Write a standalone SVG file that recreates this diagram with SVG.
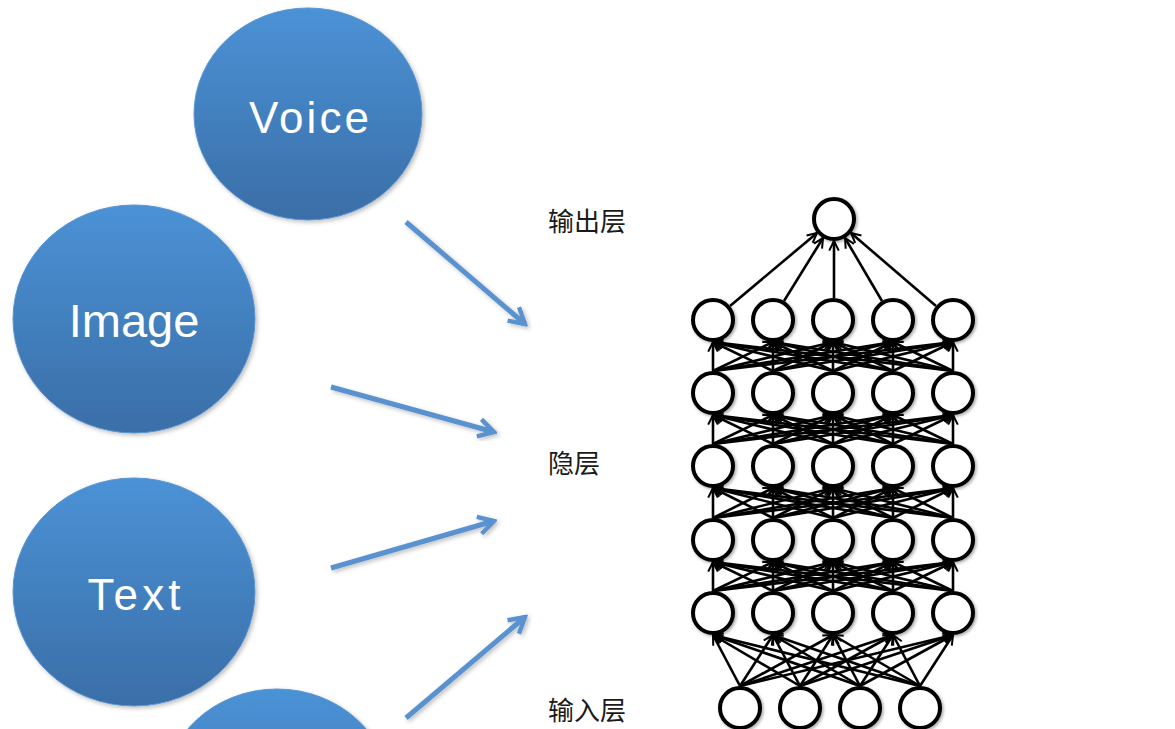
<svg xmlns="http://www.w3.org/2000/svg" width="1175" height="729" viewBox="0 0 1175 729">
  <style>
    .bubble { fill: url(#bubbleFill); stroke: #5b95d0; stroke-width: 1; filter: url(#softShadow); }
    .blabel { fill: #ffffff; }
    .spaced { font-family: "Liberation Sans", Arial, sans-serif; font-size: 44px; }
    .sans { font-family: "Liberation Sans", Arial, sans-serif; font-size: 47px; }
    .flow { stroke: #5a92cf; stroke-width: 5; fill: none; marker-end: url(#blueHead); filter: url(#softShadow); }
    .neuron { fill: #ffffff; stroke: #000000; stroke-width: 4; filter: url(#nodeShadow); }
    .e { stroke: #000000; stroke-width: 2.6; marker-end: url(#blackHead); }
    .cap { font-family: "Noto Sans CJK SC", "Noto Sans", sans-serif; font-size: 26px; fill: #1a1a1a; }
  </style>
  <defs>
    <linearGradient id="bubbleFill" x1="0" y1="0" x2="0" y2="1">
      <stop offset="0" stop-color="#4b92d6"/>
      <stop offset="1" stop-color="#3a6ea7"/>
    </linearGradient>
    <filter id="softShadow" x="-20%" y="-20%" width="140%" height="140%">
      <feDropShadow dx="2" dy="2" stdDeviation="2" flood-color="#000" flood-opacity="0.25"/>
    </filter>
    <filter id="nodeShadow" x="-30%" y="-30%" width="160%" height="160%">
      <feDropShadow dx="1.5" dy="1.5" stdDeviation="1.5" flood-color="#000" flood-opacity="0.35"/>
    </filter>
    <marker id="blueHead" viewBox="0 0 20 20" refX="17" refY="10" markerWidth="22" markerHeight="22" markerUnits="userSpaceOnUse" orient="auto">
      <path d="M3,2 L17,10 L3,18" fill="none" stroke="#5a92cf" stroke-width="4"/>
    </marker>
    <marker id="blackHead" viewBox="0 0 10 10" refX="9" refY="5" markerWidth="12" markerHeight="12" markerUnits="userSpaceOnUse" orient="auto">
      <path d="M1,1 L9,5 L1,9" fill="none" stroke="#000" stroke-width="1.7"/>
    </marker>
  </defs>

  <rect width="1175" height="729" fill="#ffffff"/>

  <!-- input media bubbles -->
  <g id="voice">
    <ellipse class="bubble" cx="308" cy="114" rx="114" ry="106"/>
    <text class="blabel spaced" x="309" y="133" text-anchor="middle" textLength="120" lengthAdjust="spacing">Voice</text>
  </g>
  <g id="image">
    <ellipse class="bubble" cx="134" cy="319" rx="121" ry="114"/>
    <text class="blabel sans" x="134" y="337" text-anchor="middle">Image</text>
  </g>
  <g id="text">
    <ellipse class="bubble" cx="134" cy="592" rx="121" ry="114"/>
    <text class="blabel spaced" x="134" y="610" text-anchor="middle" textLength="93" lengthAdjust="spacing">Text</text>
  </g>
  <g id="video">
    <ellipse class="bubble" cx="277" cy="795" rx="114" ry="106"/>
  </g>

  <!-- layer captions -->
  <g id="captions">
    <text class="cap" x="548" y="231">输出层</text>
    <text class="cap" x="548" y="473">隐层</text>
    <text class="cap" x="548" y="720">输入层</text>
  </g>

  <!-- blue flow arrows -->
  <g id="flows">
    <line class="flow" x1="406" y1="222" x2="525" y2="324"/>
    <line class="flow" x1="331" y1="387" x2="494" y2="432"/>
    <line class="flow" x1="331" y1="568" x2="494" y2="521"/>
    <line class="flow" x1="406" y1="718" x2="525" y2="617"/>
    <line class="flow" x1="1028" y1="478" x2="1172" y2="478"/>
  </g>

  <!-- network edges -->
  <g id="connectors">
    <!-- input -> hidden 1 -->
    <line class="e" x1="740" y1="686" x2="713" y2="635"/>
    <line class="e" x1="740" y1="686" x2="773" y2="635"/>
    <line class="e" x1="740" y1="686" x2="833" y2="635"/>
    <line class="e" x1="740" y1="686" x2="893" y2="635"/>
    <line class="e" x1="740" y1="686" x2="953" y2="635"/>
    <line class="e" x1="800" y1="686" x2="713" y2="635"/>
    <line class="e" x1="800" y1="686" x2="773" y2="635"/>
    <line class="e" x1="800" y1="686" x2="833" y2="635"/>
    <line class="e" x1="800" y1="686" x2="893" y2="635"/>
    <line class="e" x1="800" y1="686" x2="953" y2="635"/>
    <line class="e" x1="860" y1="686" x2="713" y2="635"/>
    <line class="e" x1="860" y1="686" x2="773" y2="635"/>
    <line class="e" x1="860" y1="686" x2="833" y2="635"/>
    <line class="e" x1="860" y1="686" x2="893" y2="635"/>
    <line class="e" x1="860" y1="686" x2="953" y2="635"/>
    <line class="e" x1="920" y1="686" x2="713" y2="635"/>
    <line class="e" x1="920" y1="686" x2="773" y2="635"/>
    <line class="e" x1="920" y1="686" x2="833" y2="635"/>
    <line class="e" x1="920" y1="686" x2="893" y2="635"/>
    <line class="e" x1="920" y1="686" x2="953" y2="635"/>
    <!-- hidden 1 -> hidden 2 -->
    <line class="e" x1="713" y1="591" x2="713" y2="562"/>
    <line class="e" x1="713" y1="591" x2="773" y2="562"/>
    <line class="e" x1="713" y1="591" x2="833" y2="562"/>
    <line class="e" x1="713" y1="591" x2="893" y2="562"/>
    <line class="e" x1="713" y1="591" x2="953" y2="562"/>
    <line class="e" x1="773" y1="591" x2="713" y2="562"/>
    <line class="e" x1="773" y1="591" x2="773" y2="562"/>
    <line class="e" x1="773" y1="591" x2="833" y2="562"/>
    <line class="e" x1="773" y1="591" x2="893" y2="562"/>
    <line class="e" x1="773" y1="591" x2="953" y2="562"/>
    <line class="e" x1="833" y1="591" x2="713" y2="562"/>
    <line class="e" x1="833" y1="591" x2="773" y2="562"/>
    <line class="e" x1="833" y1="591" x2="833" y2="562"/>
    <line class="e" x1="833" y1="591" x2="893" y2="562"/>
    <line class="e" x1="833" y1="591" x2="953" y2="562"/>
    <line class="e" x1="893" y1="591" x2="713" y2="562"/>
    <line class="e" x1="893" y1="591" x2="773" y2="562"/>
    <line class="e" x1="893" y1="591" x2="833" y2="562"/>
    <line class="e" x1="893" y1="591" x2="893" y2="562"/>
    <line class="e" x1="893" y1="591" x2="953" y2="562"/>
    <line class="e" x1="953" y1="591" x2="713" y2="562"/>
    <line class="e" x1="953" y1="591" x2="773" y2="562"/>
    <line class="e" x1="953" y1="591" x2="833" y2="562"/>
    <line class="e" x1="953" y1="591" x2="893" y2="562"/>
    <line class="e" x1="953" y1="591" x2="953" y2="562"/>
    <!-- hidden 2 -> hidden 3 -->
    <line class="e" x1="713" y1="518" x2="713" y2="488"/>
    <line class="e" x1="713" y1="518" x2="773" y2="488"/>
    <line class="e" x1="713" y1="518" x2="833" y2="488"/>
    <line class="e" x1="713" y1="518" x2="893" y2="488"/>
    <line class="e" x1="713" y1="518" x2="953" y2="488"/>
    <line class="e" x1="773" y1="518" x2="713" y2="488"/>
    <line class="e" x1="773" y1="518" x2="773" y2="488"/>
    <line class="e" x1="773" y1="518" x2="833" y2="488"/>
    <line class="e" x1="773" y1="518" x2="893" y2="488"/>
    <line class="e" x1="773" y1="518" x2="953" y2="488"/>
    <line class="e" x1="833" y1="518" x2="713" y2="488"/>
    <line class="e" x1="833" y1="518" x2="773" y2="488"/>
    <line class="e" x1="833" y1="518" x2="833" y2="488"/>
    <line class="e" x1="833" y1="518" x2="893" y2="488"/>
    <line class="e" x1="833" y1="518" x2="953" y2="488"/>
    <line class="e" x1="893" y1="518" x2="713" y2="488"/>
    <line class="e" x1="893" y1="518" x2="773" y2="488"/>
    <line class="e" x1="893" y1="518" x2="833" y2="488"/>
    <line class="e" x1="893" y1="518" x2="893" y2="488"/>
    <line class="e" x1="893" y1="518" x2="953" y2="488"/>
    <line class="e" x1="953" y1="518" x2="713" y2="488"/>
    <line class="e" x1="953" y1="518" x2="773" y2="488"/>
    <line class="e" x1="953" y1="518" x2="833" y2="488"/>
    <line class="e" x1="953" y1="518" x2="893" y2="488"/>
    <line class="e" x1="953" y1="518" x2="953" y2="488"/>
    <!-- hidden 3 -> hidden 4 -->
    <line class="e" x1="713" y1="444" x2="713" y2="415"/>
    <line class="e" x1="713" y1="444" x2="773" y2="415"/>
    <line class="e" x1="713" y1="444" x2="833" y2="415"/>
    <line class="e" x1="713" y1="444" x2="893" y2="415"/>
    <line class="e" x1="713" y1="444" x2="953" y2="415"/>
    <line class="e" x1="773" y1="444" x2="713" y2="415"/>
    <line class="e" x1="773" y1="444" x2="773" y2="415"/>
    <line class="e" x1="773" y1="444" x2="833" y2="415"/>
    <line class="e" x1="773" y1="444" x2="893" y2="415"/>
    <line class="e" x1="773" y1="444" x2="953" y2="415"/>
    <line class="e" x1="833" y1="444" x2="713" y2="415"/>
    <line class="e" x1="833" y1="444" x2="773" y2="415"/>
    <line class="e" x1="833" y1="444" x2="833" y2="415"/>
    <line class="e" x1="833" y1="444" x2="893" y2="415"/>
    <line class="e" x1="833" y1="444" x2="953" y2="415"/>
    <line class="e" x1="893" y1="444" x2="713" y2="415"/>
    <line class="e" x1="893" y1="444" x2="773" y2="415"/>
    <line class="e" x1="893" y1="444" x2="833" y2="415"/>
    <line class="e" x1="893" y1="444" x2="893" y2="415"/>
    <line class="e" x1="893" y1="444" x2="953" y2="415"/>
    <line class="e" x1="953" y1="444" x2="713" y2="415"/>
    <line class="e" x1="953" y1="444" x2="773" y2="415"/>
    <line class="e" x1="953" y1="444" x2="833" y2="415"/>
    <line class="e" x1="953" y1="444" x2="893" y2="415"/>
    <line class="e" x1="953" y1="444" x2="953" y2="415"/>
    <!-- hidden 4 -> hidden 5 -->
    <line class="e" x1="713" y1="371" x2="713" y2="342"/>
    <line class="e" x1="713" y1="371" x2="773" y2="342"/>
    <line class="e" x1="713" y1="371" x2="833" y2="342"/>
    <line class="e" x1="713" y1="371" x2="893" y2="342"/>
    <line class="e" x1="713" y1="371" x2="953" y2="342"/>
    <line class="e" x1="773" y1="371" x2="713" y2="342"/>
    <line class="e" x1="773" y1="371" x2="773" y2="342"/>
    <line class="e" x1="773" y1="371" x2="833" y2="342"/>
    <line class="e" x1="773" y1="371" x2="893" y2="342"/>
    <line class="e" x1="773" y1="371" x2="953" y2="342"/>
    <line class="e" x1="833" y1="371" x2="713" y2="342"/>
    <line class="e" x1="833" y1="371" x2="773" y2="342"/>
    <line class="e" x1="833" y1="371" x2="833" y2="342"/>
    <line class="e" x1="833" y1="371" x2="893" y2="342"/>
    <line class="e" x1="833" y1="371" x2="953" y2="342"/>
    <line class="e" x1="893" y1="371" x2="713" y2="342"/>
    <line class="e" x1="893" y1="371" x2="773" y2="342"/>
    <line class="e" x1="893" y1="371" x2="833" y2="342"/>
    <line class="e" x1="893" y1="371" x2="893" y2="342"/>
    <line class="e" x1="893" y1="371" x2="953" y2="342"/>
    <line class="e" x1="953" y1="371" x2="713" y2="342"/>
    <line class="e" x1="953" y1="371" x2="773" y2="342"/>
    <line class="e" x1="953" y1="371" x2="833" y2="342"/>
    <line class="e" x1="953" y1="371" x2="893" y2="342"/>
    <line class="e" x1="953" y1="371" x2="953" y2="342"/>
    <!-- hidden 5 -> output -->
    <line class="e" x1="730" y1="306" x2="817" y2="233"/>
    <line class="e" x1="784" y1="301" x2="823" y2="238"/>
    <line class="e" x1="834" y1="298" x2="834" y2="241"/>
    <line class="e" x1="882" y1="301" x2="845" y2="238"/>
    <line class="e" x1="936" y1="306" x2="851" y2="233"/>
  </g>

  <!-- network neurons -->
  <g id="output-layer">
    <circle class="neuron" cx="834" cy="219" r="20"/>
  </g>
  <g id="hidden-5">
    <circle class="neuron" cx="713" cy="320" r="20"/>
    <circle class="neuron" cx="773" cy="320" r="20"/>
    <circle class="neuron" cx="833" cy="320" r="20"/>
    <circle class="neuron" cx="893" cy="320" r="20"/>
    <circle class="neuron" cx="953" cy="320" r="20"/>
  </g>
  <g id="hidden-4">
    <circle class="neuron" cx="713" cy="393" r="20"/>
    <circle class="neuron" cx="773" cy="393" r="20"/>
    <circle class="neuron" cx="833" cy="393" r="20"/>
    <circle class="neuron" cx="893" cy="393" r="20"/>
    <circle class="neuron" cx="953" cy="393" r="20"/>
  </g>
  <g id="hidden-3">
    <circle class="neuron" cx="713" cy="466" r="20"/>
    <circle class="neuron" cx="773" cy="466" r="20"/>
    <circle class="neuron" cx="833" cy="466" r="20"/>
    <circle class="neuron" cx="893" cy="466" r="20"/>
    <circle class="neuron" cx="953" cy="466" r="20"/>
  </g>
  <g id="hidden-2">
    <circle class="neuron" cx="713" cy="540" r="20"/>
    <circle class="neuron" cx="773" cy="540" r="20"/>
    <circle class="neuron" cx="833" cy="540" r="20"/>
    <circle class="neuron" cx="893" cy="540" r="20"/>
    <circle class="neuron" cx="953" cy="540" r="20"/>
  </g>
  <g id="hidden-1">
    <circle class="neuron" cx="713" cy="613" r="20"/>
    <circle class="neuron" cx="773" cy="613" r="20"/>
    <circle class="neuron" cx="833" cy="613" r="20"/>
    <circle class="neuron" cx="893" cy="613" r="20"/>
    <circle class="neuron" cx="953" cy="613" r="20"/>
  </g>
  <g id="input-layer">
    <circle class="neuron" cx="740" cy="708" r="20"/>
    <circle class="neuron" cx="800" cy="708" r="20"/>
    <circle class="neuron" cx="860" cy="708" r="20"/>
    <circle class="neuron" cx="920" cy="708" r="20"/>
  </g>
</svg>
